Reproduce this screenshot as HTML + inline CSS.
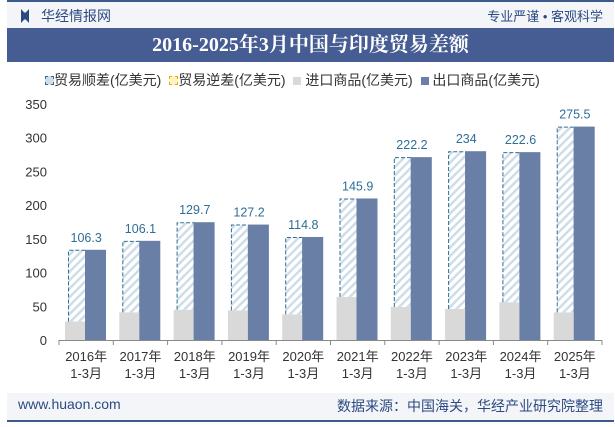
<!DOCTYPE html>
<html><head><meta charset="utf-8"><style>
body{margin:0;width:615px;height:427px;overflow:hidden;background:#fff;font-family:"Liberation Sans","Noto Sans CJK SC",sans-serif;position:relative}
.a{position:absolute}
</style></head><body>
<div class="a" style="left:7px;top:0;width:607px;height:2px;background:#3d5a8c"></div>
<div class="a" style="left:7px;top:2px;width:607px;height:26px;background:#f4f5f9"></div>
<div class="a" style="left:21px;top:9px;width:8px;height:14px;background:#2c4a80;clip-path:polygon(0 0,40% 25%,60% 25%,100% 0,100% 100%,60% 75%,40% 75%,0 100%)"></div>
<div class="a" style="left:41px;top:6px;font-size:14px;color:#2c4a80">华经情报网</div>
<div class="a" style="right:12px;top:6px;font-size:13px;color:#2c4a80">专业严谨 • 客观科学</div>
<div class="a" style="left:7px;top:28px;width:607px;height:34px;background:#465d93;color:#fff;font-family:'Liberation Serif','Noto Serif CJK SC',serif;font-weight:bold;font-size:20px;text-align:center;line-height:34px">2016-2025年3月中国与印度贸易差额</div>
<div class="a" style="left:45px;top:70px;font-size:14px;color:#333;white-space:nowrap">
<span><span style="display:inline-block;width:7px;height:7px;border:1px dashed #2f6e95;background:#cfdde8"></span>贸易顺差(亿美元)</span>
<span style="margin-left:4px"><span style="display:inline-block;width:7px;height:7px;border:1px dashed #e8b000;background:#fff3c4"></span>贸易逆差(亿美元)</span>
<span style="margin-left:4px"><span style="display:inline-block;width:8px;height:8px;background:#d9d9d9"></span> 进口商品(亿美元)</span>
<span style="margin-left:4px"><span style="display:inline-block;width:8px;height:8px;background:#6a7fa6"></span> 出口商品(亿美元)</span>
</div>
<svg class="a" style="left:0;top:0" width="615" height="427" id="chart">
<defs><pattern id="hatch" width="6" height="6" patternUnits="userSpaceOnUse" patternTransform="rotate(45)"><rect width="6" height="6" fill="#fff"/><rect width="2.5" height="6" fill="#cfdde8"/></pattern></defs>
</svg>
<div class="a" style="left:7px;top:393px;width:607px;height:27px;background:#f4f5f9"></div>
<div class="a" style="left:7px;top:420px;width:607px;height:2px;background:#3d5a8c"></div>
<div class="a" style="left:18px;top:396px;font-size:14px;color:#2c4a80">www.huaon.com</div>
<div class="a" style="right:12px;top:396px;font-size:14px;color:#2c4a80">数据来源：中国海关，华经产业研究院整理</div>
<script>
const categories=["2016年","2017年","2018年","2019年","2020年","2021年","2022年","2023年","2024年","2025年"];
const surplus=[106.3,106.1,129.7,127.2,114.8,145.9,222.2,234,222.6,275.5];
const imports=[27.5,41,45,44,38,64,49,46,56,41];
const exports=[133.8,147.1,174.7,171.2,152.8,209.9,271.2,280,278.6,316.5];
const yTicks=[0,50,100,150,200,250,300,350];
const svg=document.getElementById('chart');const NS='http://www.w3.org/2000/svg';
const X0=59,X1=602,Y0=340,Y1=104,YMAX=350;
const bw=(X1-X0)/categories.length;
const y=v=>Y0-(v/YMAX)*(Y0-Y1);
const xc=i=>X0+i*bw;
function mk(t,a,txt){const e=document.createElementNS(NS,t);for(const k in a)e.setAttribute(k,a[k]);if(txt!=null)e.textContent=txt;svg.appendChild(e);return e;}
yTicks.forEach(v=>{const t=mk('text',{x:X0-12,y:y(v)+5,'text-anchor':'end','font-size':13,fill:'#333'},String(v));

});
const ax=mk('line',{x1:X0,x2:X1,y1:Y0+0.5,y2:Y0+0.5,stroke:'#888'});


categories.forEach((c,i)=>{
const b=xc(i);
const tk=mk('line',{x1:b,x2:b,y1:Y0,y2:Y0+5,stroke:'#888'});


const g=mk('rect',{x:b+6,y:y(imports[i]),width:20,height:Y0-y(imports[i]),fill:'#d9d9d9'});


const top=imports[i]+surplus[i];
const h=mk('rect',{x:b+9.5,y:y(top)+0.5,width:17,height:y(imports[i])-y(top)-0.5,fill:'url(#hatch)'});


const o=mk('path',{d:`M${b+9.5},${y(imports[i])}V${y(top)+0.5}H${b+26.5}V${y(imports[i])}`,fill:'none',stroke:'#2f6e95','stroke-dasharray':'4,2','stroke-width':1});


const e=mk('rect',{x:b+26,y:y(exports[i]),width:21,height:Y0-y(exports[i]),fill:'#6a7fa6'});


const l=mk('text',{x:b+bw/2,y:y(top)-8,'text-anchor':'middle','font-size':12.5,fill:'#2f6e95'},String(surplus[i]));


const t1=mk('text',{x:b+bw/2,y:Y0+21,'text-anchor':'middle','font-size':13,fill:'#333'},c);


const t2=mk('text',{x:b+bw/2,y:Y0+38,'text-anchor':'middle','font-size':13,fill:'#333'},'1-3月');


});
const lt=mk('line',{x1:X1,x2:X1,y1:Y0,y2:Y0+5,stroke:'#888'});


</script>
</body></html>
